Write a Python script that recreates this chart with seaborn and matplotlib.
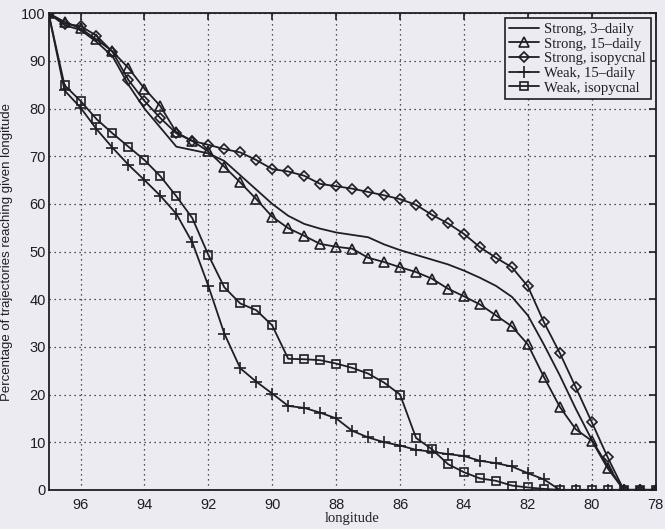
import numpy as np
import pandas as pd
import matplotlib
matplotlib.use("Agg")
import matplotlib.pyplot as plt
import seaborn as sns

# Longitudes sampled every half degree, west to east
longitude = [97.0, 96.5, 96.0, 95.5, 95.0, 94.5, 94.0, 93.5, 93.0, 92.5,
             92.0, 91.5, 91.0, 90.5, 90.0, 89.5, 89.0, 88.5, 88.0, 87.5,
             87.0, 86.5, 86.0, 85.5, 85.0, 84.5, 84.0, 83.5, 83.0, 82.5,
             82.0, 81.5, 81.0, 80.5, 80.0, 79.5, 79.0, 78.5, 78.0]

strong_3daily = [100, 97.5, 96.5, 94.0, 91.0, 85.0, 80.0, 76.0, 72.0, 71.3,
                 70.6, 69.0, 66.0, 63.0, 60.0, 57.5, 55.8, 54.8, 54.0, 53.5,
                 53.0, 51.5, 50.3, 49.3, 48.3, 47.3, 46.0, 44.5, 42.8, 40.5,
                 36.6, 30.5, 24.0, 17.0, 10.5, 5.0, 0.0, 0.0, 0.0]

strong_15daily = [100, 98.2, 96.8, 94.5, 92.0, 88.5, 84.2, 80.5, 75.0, 73.2,
                  71.0, 67.8, 64.5, 61.0, 57.3, 54.9, 53.3, 51.6, 51.0, 50.6,
                  48.7, 47.8, 46.7, 45.7, 44.3, 42.2, 40.6, 38.9, 36.6, 34.3,
                  30.5, 23.7, 17.4, 12.7, 10.3, 4.5, 0.0, 0.0, 0.0]

strong_isopycnal = [100, 97.8, 97.3, 95.3, 91.9, 86.0, 81.6, 78.0, 74.8, 73.2,
                    72.4, 71.5, 70.8, 69.2, 67.3, 66.8, 65.9, 64.2, 63.7, 63.2,
                    62.5, 61.8, 61.0, 59.8, 57.7, 55.9, 53.7, 50.9, 48.7, 46.7,
                    42.7, 35.2, 28.7, 21.5, 14.2, 6.8, 0.0, 0.0, 0.0]

weak_15daily = [100, 83.8, 80.2, 75.7, 71.8, 68.2, 65.0, 61.7, 57.9, 51.9,
                42.8, 32.8, 25.5, 22.7, 20.2, 17.6, 17.2, 16.2, 15.0, 12.4,
                11.0, 10.0, 9.3, 8.4, 8.0, 7.5, 7.1, 6.1, 5.6, 4.9,
                3.5, 2.2, 0.0, 0.0, 0.0, 0.0, 0.0, 0.0, 0.0]

weak_isopycnal = [100, 84.9, 81.6, 77.8, 74.8, 72.0, 69.2, 65.8, 61.6, 57.0,
                  49.3, 42.5, 39.1, 37.7, 34.5, 27.5, 27.4, 27.2, 26.5, 25.6,
                  24.4, 22.5, 20.0, 10.9, 8.5, 5.4, 3.7, 2.4, 1.9, 0.9,
                  0.5, 0.2, 0.0, 0.0, 0.0, 0.0, 0.0, 0.0, 0.0]

series_names = ["Strong, 3\u2013daily", "Strong, 15\u2013daily", "Strong, isopycnal",
                "Weak, 15\u2013daily", "Weak, isopycnal"]
series_values = [strong_3daily, strong_15daily, strong_isopycnal,
                 weak_15daily, weak_isopycnal]
series_markers = [None, "^", "D", "+", "s"]
series_msize = [0, 6.5, 5.0, 8.0, 5.5]

x_ticks = [96, 94, 92, 90, 88, 86, 84, 82, 80, 78]
y_ticks = [0, 10, 20, 30, 40, 50, 60, 70, 80, 90, 100]

frames = []
for name, vals in zip(series_names, series_values):
    frames.append(pd.DataFrame({"longitude": longitude, "pct": vals, "run": name}))
df = pd.concat(frames, ignore_index=True)

sns.set_theme(style="white")
plt.rcParams["font.family"] = ["Liberation Serif", "DejaVu Serif"]

bg = "#ecebf2"
fig = plt.figure(figsize=(6.65, 5.29), dpi=100, facecolor=bg)
ax = fig.add_axes([0.073, 0.074, 0.913, 0.901])
ax.set_facecolor(bg)

ink = "#1e1e24"
for name, mk, ms in zip(series_names, series_markers, series_msize):
    sub = df[df["run"] == name]
    kw = dict(color=ink, linewidth=1.3, label=name)
    if mk is not None:
        kw.update(marker=mk, markersize=ms, markerfacecolor="none",
                  markeredgecolor=ink, markeredgewidth=1.2)
    sns.lineplot(data=sub, x="longitude", y="pct", ax=ax, **kw)

ax.set_xlim(97, 78)
ax.set_ylim(0, 100)
ax.set_xticks(x_ticks)
ax.set_xticklabels([str(t) for t in x_ticks])
ax.set_yticks(y_ticks)
ax.set_yticklabels([str(t) for t in y_ticks])

ax.grid(True, linestyle=(0, (1, 3)), color=ink, linewidth=0.9)
for side in ["top", "right", "bottom", "left"]:
    ax.spines[side].set_visible(True)
    ax.spines[side].set_color(ink)
    ax.spines[side].set_linewidth(1.3)
ax.tick_params(direction="in", length=5, width=1.2, color=ink,
               top=True, right=True, labelsize=10.5, labelcolor=ink)
ax.tick_params(axis="x", pad=6)
ax.tick_params(axis="y", pad=2)
for lab in ax.get_xticklabels() + ax.get_yticklabels():
    lab.set_family(["Liberation Sans", "DejaVu Sans"])

ax.set_xlabel("longitude", fontsize=10.5, color=ink, labelpad=0)
ax.set_ylabel("Percentage of trajectories reaching given longitude",
              fontsize=9.5, color=ink,
              family=["Liberation Sans", "DejaVu Sans"])
ax.yaxis.set_label_coords(-0.058, 0.5)

leg = ax.legend(loc="upper right", fontsize=10.5, frameon=True, fancybox=False,
                framealpha=1, borderaxespad=0.35, handlelength=2.0,
                handletextpad=0.4, labelspacing=0.1, borderpad=0.3)
leg.get_frame().set_edgecolor(ink)
leg.get_frame().set_facecolor(bg)
leg.get_frame().set_linewidth(1.2)
for t in leg.get_texts():
    t.set_color(ink)

fig.savefig("out.png", dpi=100, facecolor=bg)
